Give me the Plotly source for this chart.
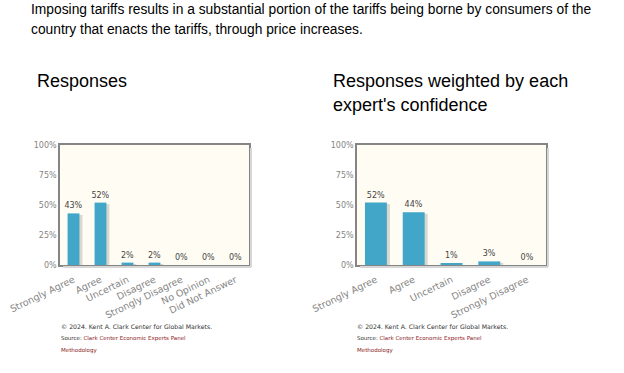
import plotly.graph_objects as go

W, H = 624, 373

question = ["Imposing tariffs results in a substantial portion of the tariffs being borne by consumers of the",
            "country that enacts the tariffs, through price increases."]

cats_left = ["Strongly Agree", "Agree", "Uncertain", "Disagree", "Strongly Disagree", "No Opinion", "Did Not Answer"]
vals_left = [43, 52, 2, 2, 0, 0, 0]

cats_right = ["Strongly Agree", "Agree", "Uncertain", "Disagree", "Strongly Disagree"]
vals_right = [52, 44, 1, 3, 0]

ytick_vals = [0, 25, 50, 75, 100]
ytick_text = ["0%", "25%", "50%", "75%", "100%"]

BAR = "#41a6c8"
SHADOW = "rgba(0,0,0,0.15)"
TICK = "#858585"
FONT = "DejaVu Sans"


def px(x):
    return x / W


def py(y):
    return 1 - y / H


fig = go.Figure()

panels = [
    dict(cats=cats_left, vals=vals_left, xa="x", ya="y", width=0.44, shift=0.11,
         xdom=[px(60), px(249)]),
    dict(cats=cats_right, vals=vals_right, xa="x2", ya="y2", width=0.58, shift=0.08,
         xdom=[px(357), px(546)]),
]

for p in panels:
    shadow_vals = [max(v - 1.2, 0) for v in p["vals"]]
    fig.add_trace(go.Bar(
        x=p["cats"], y=shadow_vals, xaxis=p["xa"], yaxis=p["ya"],
        width=p["width"], offset=-p["width"] / 2 + p["shift"],
        marker=dict(color=SHADOW, line=dict(width=0)),
        hoverinfo="skip", showlegend=False,
    ))
    fig.add_trace(go.Bar(
        x=p["cats"], y=p["vals"], xaxis=p["xa"], yaxis=p["ya"],
        width=p["width"], offset=-p["width"] / 2,
        marker=dict(color=BAR, line=dict(width=0)),
        text=[f"{v}%" for v in p["vals"]], textposition="outside", constraintext="none",
        textfont=dict(family=FONT, size=8, color="#444444"),
        cliponaxis=False, showlegend=False,
    ))

ydom = [py(265), py(145)]

axis_common = dict(showline=True, mirror=True, linecolor="#858585", linewidth=1.5,
                   showgrid=False, zeroline=False, fixedrange=True, automargin=False)

xaxis_common = dict(tickangle=-26, ticklabelstandoff=4,
                    tickfont=dict(family=FONT, size=9.5, color=TICK), ticks="", **axis_common)
yaxis_common = dict(range=[0, 100], tickvals=ytick_vals, ticktext=ytick_text,
                    tickfont=dict(family=FONT, size=8, color=TICK), ticks="", **axis_common)

fig.update_layout(
    template="none",
    width=W, height=H,
    margin=dict(l=0, r=0, t=0, b=0, autoexpand=False),
    paper_bgcolor="white",
    plot_bgcolor="#fffdf3",
    barmode="overlay",
    showlegend=False,
    xaxis=dict(domain=panels[0]["xdom"], anchor="y", **xaxis_common),
    yaxis=dict(domain=ydom, anchor="x", **yaxis_common),
    xaxis2=dict(domain=panels[1]["xdom"], anchor="y2", **xaxis_common),
    yaxis2=dict(domain=ydom, anchor="x2", **yaxis_common),
)

ann = []


def text(x, y, s, size, color="black", family="Liberation Sans"):
    ann.append(dict(x=px(x), y=py(y), xref="paper", yref="paper", xanchor="left", yanchor="middle",
                    text=s, showarrow=False, font=dict(family=family, size=size, color=color)))


text(29, 9, question[0], 13.8)
text(29, 29, question[1], 13.8)
text(35, 81, "Responses", 18)
text(331, 81, "Responses weighted by each", 18)
text(331, 105, "expert's confidence", 18)

for x0 in (59, 355):
    text(x0, 326, "© 2024. Kent A. Clark Center for Global Markets.", 6.2, "#333333", FONT)
    text(x0, 338, "Source: <span style='color:#8b1a1a'>Clark Center Economic Experts Panel</span>", 5.5, "#333333", FONT)
    text(x0, 350, "Methodology", 5.5, "#8b1a1a", FONT)

fig.update_layout(annotations=ann)

# subtle frame shadow on right and bottom edges of each plot area
shapes = []
for p in panels:
    x0, x1 = p["xdom"]
    shapes.append(dict(type="line", xref="paper", yref="paper", x0=x1 + px(2), x1=x1 + px(2),
                       y0=ydom[0] - 2 / H, y1=ydom[1] - 3 / H, line=dict(color="#d6d6d6", width=2)))
    shapes.append(dict(type="line", xref="paper", yref="paper", x0=x0 + px(3), x1=x1 + px(2),
                       y0=ydom[0] - 2 / H, y1=ydom[0] - 2 / H, line=dict(color="#d6d6d6", width=2)))
fig.update_layout(shapes=shapes)

fig.write_html("out.html", config={"displayModeBar": False},
               post_script="document.body.style.margin='0';")
